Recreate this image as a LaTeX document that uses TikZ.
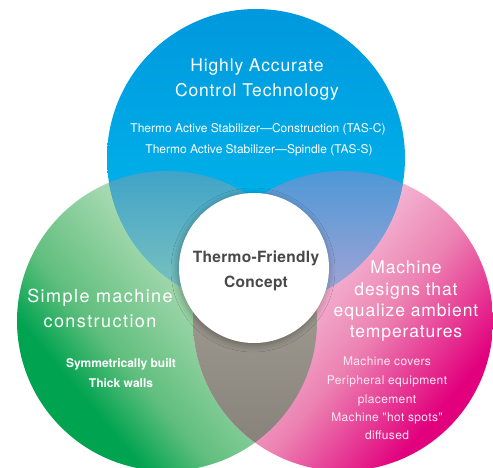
\documentclass[tikz,border=0pt]{standalone}
\usepackage{fontspec}
\setmainfont{TeX Gyre Heros}
\newfontfamily\hv{TeX Gyre Heros}
\usetikzlibrary{shadows.blur}
\definecolor{gdark}{RGB}{0,163,80}
\definecolor{gmid}{RGB}{95,190,125}
\definecolor{glight}{RGB}{190,226,192}
\definecolor{plight}{RGB}{246,200,222}
\definecolor{pmid}{RGB}{236,130,178}
\definecolor{pdark}{RGB}{226,0,125}
\definecolor{btop}{RGB}{0,152,222}
\definecolor{bbot}{RGB}{0,190,238}
\definecolor{ttop}{RGB}{65,163,200}
\definecolor{tbot}{RGB}{130,198,190}
\definecolor{vtop}{RGB}{78,152,215}
\definecolor{vbot}{RGB}{172,165,212}
\definecolor{grtop}{RGB}{174,170,160}
\definecolor{grbot}{RGB}{132,127,118}
\definecolor{coretext}{RGB}{72,72,72}
\definecolor{pinktext}{RGB}{253,232,241}
\pgfdeclarehorizontalshading{greensh}{100bp}{color(0bp)=(gdark); color(31bp)=(gdark); color(40bp)=(gmid); color(62bp)=(glight); color(100bp)=(glight)}
\pgfdeclarehorizontalshading{pinksh}{100bp}{color(0bp)=(plight); color(38bp)=(plight); color(55bp)=(pmid); color(72bp)=(pdark); color(100bp)=(pdark)}
\tikzset{
  head/.style={text=white, anchor=base, inner sep=0pt, font=\hv\fontsize{17.5}{20}\selectfont\addfontfeature{LetterSpace=5}},
  headg/.style={text=white, anchor=base, inner sep=0pt, font=\hv\fontsize{18}{20}\selectfont\addfontfeature{LetterSpace=8}},
  small/.style={text=white, anchor=base, inner sep=0pt, font=\hv\fontsize{12}{14}\selectfont},
  smallp/.style={text=pinktext, anchor=base, inner sep=0pt, font=\hv\fontsize{12}{14}\selectfont\addfontfeature{LetterSpace=3}},
  smallb/.style={text=white, anchor=base, inner sep=0pt, font=\hv\bfseries\fontsize{12}{14}\selectfont},
  core/.style={text=coretext, anchor=base, inner sep=0pt, font=\hv\bfseries\fontsize{15.5}{18}\selectfont\addfontfeature{LetterSpace=2}}
}
\begin{document}
\begin{tikzpicture}[x=1pt,y=-1pt]
\useasboundingbox (0,0) rectangle (493,467);
\coordinate (B) at (256,158);
\coordinate (G) at (167,321);
\coordinate (P) at (343,321);
\coordinate (W) at (254,268);
% green and pink circles
\shade[shading=greensh, shading angle=40] (G) circle[radius=150pt];
\shade[shading=pinksh, shading angle=-40] (P) circle[radius=150pt];
\begin{scope}
  \clip (G) circle[radius=150pt];
  \clip (P) circle[radius=150pt];
  \shade[top color=grtop, bottom color=grbot] (180,199) rectangle (330,467);
\end{scope}
% blue circle
\shade[top color=btop, bottom color=bbot] (B) circle[radius=149pt];
\begin{scope}
  \clip (G) circle[radius=150pt];
  \clip (B) circle[radius=149pt];
  \shade[top color=ttop, bottom color=tbot] (0,171) rectangle (493,308);
\end{scope}
\begin{scope}
  \clip (P) circle[radius=150pt];
  \clip (B) circle[radius=149pt];
  \shade[top color=vtop, bottom color=vbot] (0,171) rectangle (493,308);
\end{scope}
% core circle
\node[circle, fill=white, minimum size=150pt, inner sep=0pt,
      blur shadow={shadow xshift=-1pt, shadow yshift=-2pt, shadow blur radius=7pt, shadow opacity=35}] (core) at (W) {};
% texts
\node[head] (h1) at (257,71) {Highly Accurate};
\node[head] (h2) at (257,96) {Control Technology};
\node[small] (s1) at (258,132) {Thermo Active Stabilizer—Construction (TAS-C)};
\node[small] (s2) at (259,153) {Thermo Active Stabilizer—Spindle (TAS-S)};
\node[core] (c1) at (256,262) {Thermo-Friendly};
\node[core] (c2) at (256,287) {Concept};
\node[headg] (g1) at (100,302) {Simple machine};
\node[headg] (g2) at (100,327) {construction};
\node[smallb] (g3) at (121,367) {Symmetrically built};
\node[smallb] (g4) at (121,387) {Thick walls};
\node[head] (p1) at (406,273) {Machine};
\node[head] (p2) at (406,295) {designs that};
\node[head] (p3) at (406,316) {equalize ambient};
\node[head] (p4) at (406,337) {temperatures};
\node[smallp] (p5) at (387,365) {Machine covers};
\node[smallp] (p6) at (387,384) {Peripheral equipment};
\node[smallp] (p7) at (387,403) {placement};
\node[smallp] (p8) at (387,421) {Machine "hot spots"};
\node[smallp] (p9) at (387,439) {diffused};
\end{tikzpicture}
\end{document}
